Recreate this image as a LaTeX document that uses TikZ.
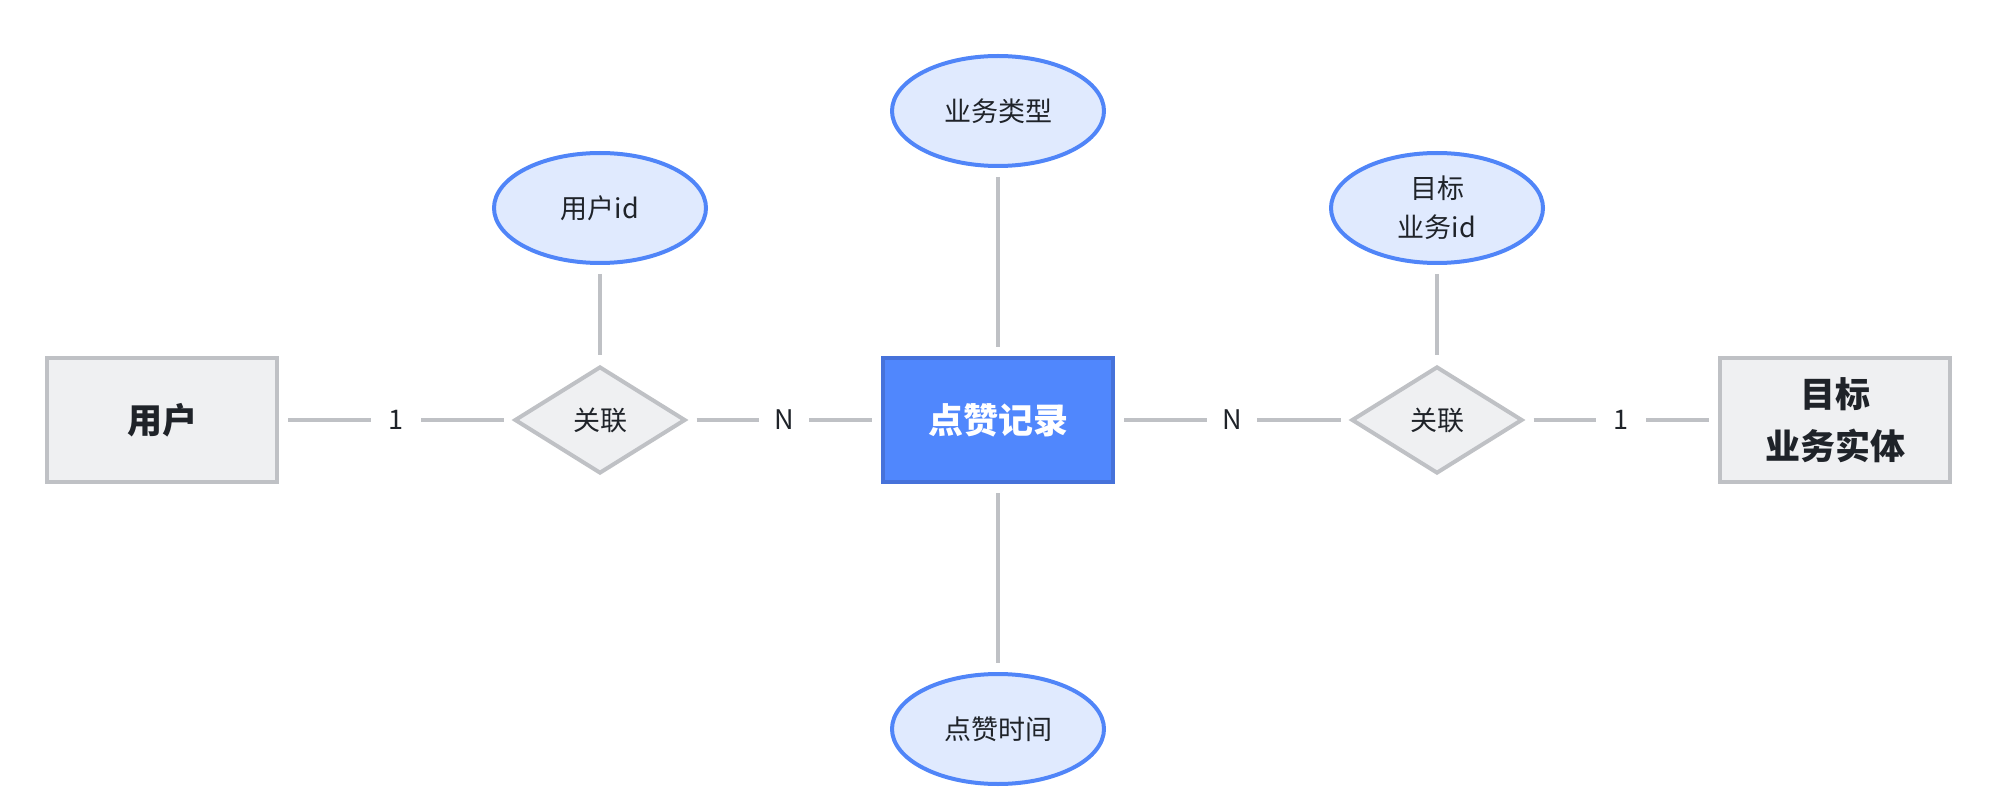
\documentclass[tikz,border=0pt]{standalone}
\usepackage{fontspec}
\setmainfont{Noto Sans CJK SC}
\usetikzlibrary{shapes.geometric}

\definecolor{inkdark}{HTML}{1F2329}
\definecolor{greyline}{HTML}{BFC1C5}
\definecolor{greyfill}{HTML}{EFF0F2}
\definecolor{attrline}{HTML}{5085F8}
\definecolor{attrfill}{HTML}{E0EAFE}
\definecolor{mainfill}{HTML}{5087FD}
\definecolor{mainline}{HTML}{4672DA}

\tikzset{
  entity/.style={rectangle,draw=greyline,fill=greyfill,line width=2pt,
    minimum width=115pt,minimum height=62pt,inner sep=0pt,align=center,
    text=inkdark,font=\fontsize{17.5}{26}\selectfont\bfseries},
  mainentity/.style={entity,draw=mainline,fill=mainfill,text=white},
  relation/.style={diamond,draw=greyline,fill=greyfill,line width=2pt,
    minimum width=85.5pt,minimum height=53.5pt,inner sep=0pt,
    text=inkdark,font=\fontsize{13.5}{19.5}\selectfont},
  attr/.style={ellipse,draw=attrline,fill=attrfill,line width=2pt,
    minimum width=106pt,minimum height=55pt,inner sep=0pt,align=center,
    text=inkdark,font=\fontsize{13.5}{19.5}\selectfont},
  link/.style={draw=greyline,line width=1.8pt,shorten >=4.5pt,shorten <=4.5pt},
  card/.style={fill=white,text=inkdark,inner sep=0pt,minimum width=25pt,
    minimum height=16pt,font=\fontsize{13.5}{16}\selectfont}
}

\begin{document}
\begin{tikzpicture}[x=0.5pt,y=-0.5pt]
  \useasboundingbox (0,0) rectangle (1998,802);

  \node[entity] (user) at (162,420) {用户};
  \node[relation] (rel1) at (600,420) {关联};
  \node[mainentity] (like) at (998,420) {点赞记录};
  \node[relation] (rel2) at (1437,420) {关联};
  \node[entity] (target) at (1835,420) {目标\\业务实体};

  \node[attr] (uid) at (600,208) {用户id};
  \node[attr] (btype) at (998,111) {业务类型};
  \node[attr] (ltime) at (998,729) {点赞时间};
  \node[attr] (tid) at (1437,208) {目标\\业务id};

  \path[link]
    (user) edge node[card] {1} (rel1)
    (rel1) edge node[card] {N} (like)
    (like) edge node[card] {N} (rel2)
    (rel2) edge node[card] {1} (target)
    (uid) edge (rel1)
    (btype) edge (like)
    (like) edge (ltime)
    (tid) edge (rel2);
\end{tikzpicture}
\end{document}
